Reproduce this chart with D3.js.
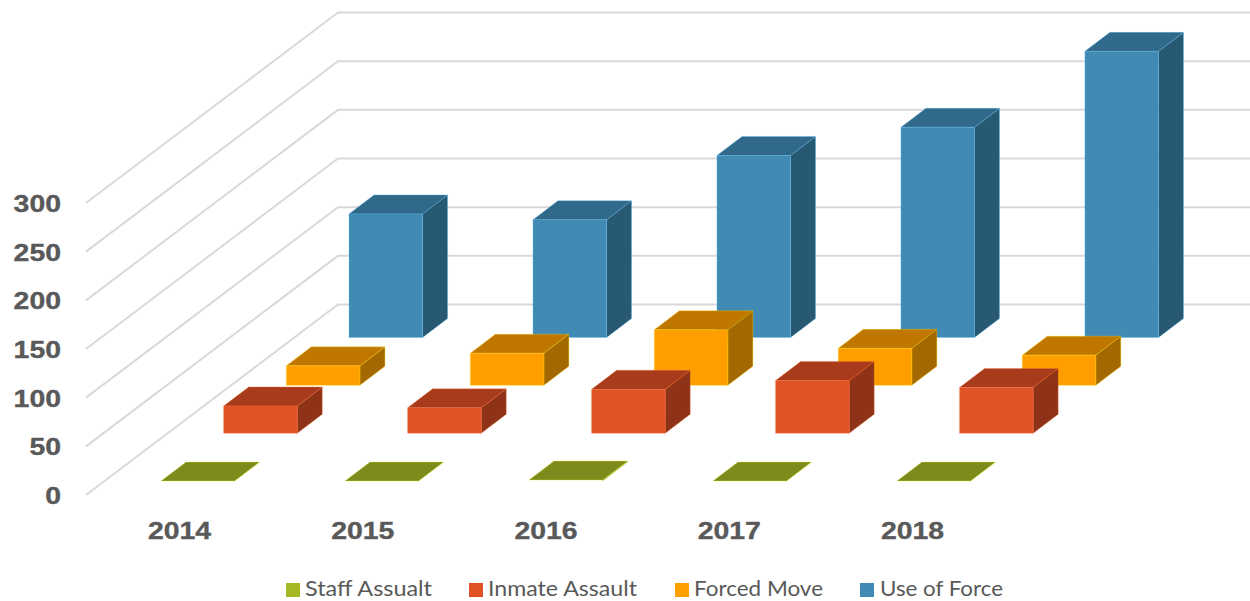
<!DOCTYPE html>
<html><head><meta charset="utf-8">
<script src="https://cdn.jsdelivr.net/npm/d3@7"></script>
<style>html,body{margin:0;padding:0;background:#fff}svg{display:block}</style>
</head><body><svg id="c" width="1250" height="601"></svg>
<script>
const categories = ["2014","2015","2016","2017","2018"];
const seriesNames = ["Staff Assualt","Inmate Assault","Forced Move","Use of Force"];
const staffAssault = [0,0,1,0,0];
const inmateAssault = [28,26,45,54,47];
const forcedMove = [20,33,57,38,31];
const useOfForce = [127,121,187,216,294];
const yTicks = [0,50,100,150,200,250,300];
const faceColors = ["#a5b722","#df5327","#fe9e00","#418ab3"];
const topColors = ["#7f8a1c","#a83b1c","#c07700","#30698a"];
const sideColors = ["#6f7a18","#8e3318","#a36800","#275972"];

const W = 1250, H = 601;
const allValues = [staffAssault, inmateAssault, forcedMove, useOfForce];
const svg = d3.select("#c");
const textColor = "#595959";

const h = d3.scaleLinear().domain([0,300]).range([0,292]);
const xCat = d3.scaleBand().domain(categories).range([161,970.5]).paddingInner(0.6).paddingOuter(0);
const xLabel = d3.scalePoint().domain(categories).range([179.5,912.5]);
const xShift = d3.scalePoint().domain(seriesNames).range([0,188]);
const yBase = d3.scalePoint().domain(seriesNames).range([481,337.5]);
const depthX = 25, depthY = 19;
const poly = d3.line();

// gridlines: floor wall lines, back wall lines
const grid = svg.append("g").attr("stroke","#d9d9d9").attr("stroke-width",2).attr("fill","none");
yTicks.forEach(t=>{
  const yL = 495 - h(t), yB = 304.5 - h(t);
  grid.append("path").attr("d",poly([[86,yL],[338,yB],[W,yB]]));
});

const boldText = (sel, str) => sel.attr("font-family","Liberation Sans").attr("font-weight","bold")
  .attr("font-size",24.5).attr("fill",textColor).attr("stroke",textColor).attr("stroke-width",0.35).text(str);

// y labels
yTicks.forEach(t=>{
  svg.append("text").attr("transform",`translate(61,${504-h(t)}) scale(1.16,1)`)
    .attr("text-anchor","end").call(boldText, t);
});

// bars, back row first
[3,2,1,0].forEach(si=>{
  const name = seriesNames[si];
  const vals = allValues[si];
  const g = svg.append("g");
  categories.forEach((c,ci)=>{
    const x0 = xCat(c)+xShift(name), x1 = x0+xCat.bandwidth();
    const yb = yBase(name), yt = yb-h(vals[ci]);
    const line = d3.color(faceColors[si]).brighter(0.9);
    const stroke = p=>p.attr("stroke",line).attr("stroke-opacity",0.4).attr("stroke-width",0.8).attr("stroke-linejoin","round");
    g.append("path").attr("d",poly([[x1,yb],[x1+depthX,yb-depthY],[x1+depthX,yt-depthY],[x1,yt]])+"Z").attr("fill",sideColors[si]).call(stroke);
    g.append("path").attr("d",poly([[x0,yt],[x1,yt],[x1+depthX,yt-depthY],[x0+depthX,yt-depthY]])+"Z").attr("fill",topColors[si]).call(stroke);
    if (vals[ci] > 1) g.append("path").attr("d",poly([[x0,yb],[x1,yb],[x1,yt],[x0,yt]])+"Z").attr("fill",faceColors[si]).call(stroke);
  });
});

// category labels
categories.forEach(c=>{
  svg.append("text").attr("transform",`translate(${xLabel(c)},539) scale(1.16,1)`)
    .attr("text-anchor","middle").call(boldText, c);
});

// legend
const legendX = [286,469,675,860];
const legendTextX = [305,488,694,880];
const legendTextW = [127,149,129,123];
seriesNames.forEach((n,i)=>{
  svg.append("rect").attr("x",legendX[i]).attr("y",583).attr("width",14).attr("height",14).attr("fill",faceColors[i]);
  svg.append("text").attr("x",legendTextX[i]).attr("y",596.4).attr("font-family","Lato")
    .attr("font-size",21).attr("fill",textColor)
    .attr("textLength",legendTextW[i]).attr("lengthAdjust","spacingAndGlyphs").text(n);
});
</script></body></html>
